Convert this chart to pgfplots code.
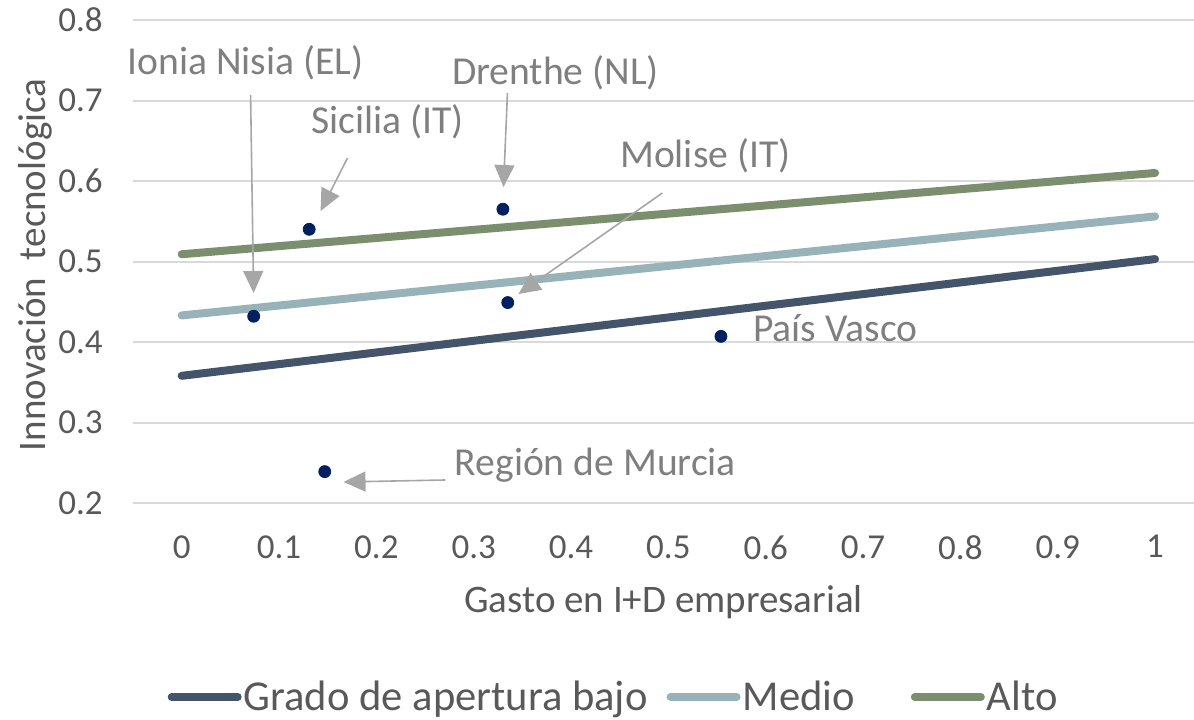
\documentclass[border=0pt]{standalone}
\usepackage{fontspec}
\setmainfont{Carlito}
\usepackage{pgfplots}
\pgfplotsset{compat=1.18}
\usetikzlibrary{arrows.meta}
\definecolor{bajo}{HTML}{44546A}
\definecolor{medio}{HTML}{97B3B7}
\definecolor{alto}{HTML}{7B8F6F}
\definecolor{pts}{HTML}{002060}
\definecolor{gridc}{HTML}{D9D9D9}
\definecolor{txt}{HTML}{595959}
\definecolor{ann}{HTML}{7F7F7F}
\definecolor{arr}{HTML}{A6A6A6}
\begin{document}
\begin{tikzpicture}
\useasboundingbox (-66.5pt,-108pt) rectangle (530.5pt,251.5pt);
\begin{axis}[
  scale only axis, width=530.5pt, height=241.5pt,
  xmin=-0.05, xmax=1.04, ymin=0.2, ymax=0.8,
  xtick={0,0.1,0.2,0.3,0.4,0.5,0.6,0.7,0.8,0.9,1},
  xticklabels={0,0.1,0.2,0.3,0.4,0.5,0.6,0.7,0.8,0.9,1},
  ytick={0.2,0.3,0.4,0.5,0.6,0.7,0.8},
  yticklabels={0.2,0.3,0.4,0.5,0.6,0.7,0.8},
  ymajorgrids, grid style={gridc, line width=1pt},
  axis line style={draw=none}, major tick length=0pt,
  tick label style={font=\fontsize{17.5}{20}\selectfont, text=txt},
  yticklabel style={anchor=east, inner sep=0pt, xshift=-15pt},
  xticklabel style={anchor=north, inner sep=0pt, yshift=-16pt},
  xlabel={Gasto en I+D empresarial},
  ylabel={Innovación\ \ tecnológica},
  label style={font=\fontsize{19.5}{22}\selectfont, text=txt},
  xlabel style={at={(axis description cs:0.5,0)}, anchor=center, yshift=-49.5pt},
  ylabel style={at={(axis description cs:0,0.493)}, anchor=center, yshift=49pt},
  clip=false,
  legend columns=3,
  legend style={draw=none, fill=none, at={(axis description cs:0.453,0)}, anchor=center, yshift=-97pt,
    font=\fontsize{21.3}{24}\selectfont, text=txt,
    /tikz/column 2/.style={column sep=8.5pt},
    /tikz/column 4/.style={column sep=27pt},
    inner sep=0pt, nodes={inner sep=1pt}},
  legend image code/.code={\draw[#1, line cap=round] (0pt,0pt) -- (33pt,0pt);},
]
\addplot[bajo, line width=4pt, line cap=round] coordinates {(0,0.358) (1,0.503)};
\addlegendentry{Grado de apertura bajo}
\addplot[medio, line width=4pt, line cap=round] coordinates {(0,0.433) (1,0.556)};
\addlegendentry{Medio}
\addplot[alto, line width=4pt, line cap=round] coordinates {(0,0.509) (1,0.610)};
\addlegendentry{Alto}
\addplot[only marks, mark=*, mark size=3pt, color=pts, forget plot] coordinates {
  (0.074,0.432) (0.131,0.540) (0.330,0.565) (0.335,0.449) (0.554,0.407) (0.147,0.239)};
\begin{scope}[every node/.style={font=\fontsize{19.8}{22}\selectfont, text=ann, inner sep=0pt}]
\node at (axis cs:0.0657,0.7466) {Ionia Nisia (EL)};
\node at (axis cs:0.2115,0.6733) {Sicilia (IT)};
\node at (axis cs:0.3840,0.7342) {Drenthe (NL)};
\node at (axis cs:0.538,0.631) {Molise (IT)};
\node at (axis cs:0.6715,0.4174) {País Vasco};
\node at (axis cs:0.425,0.2472) {Región de Murcia};
\end{scope}
\begin{scope}[arr, line width=0.8pt, -{Triangle[width=10pt,length=11pt]}]
\draw (axis cs:0.0708,0.7068) -- (axis cs:0.0739,0.4609);
\draw (axis cs:0.1704,0.6286) -- (axis cs:0.1427,0.5627);
\draw (axis cs:0.3347,0.7093) -- (axis cs:0.3306,0.5925);
\draw (axis cs:0.4938,0.5851) -- (axis cs:0.346,0.4596);
\draw (axis cs:0.2710,0.2286) -- (axis cs:0.1663,0.2261);
\end{scope}
\end{axis}
\end{tikzpicture}
\end{document}
